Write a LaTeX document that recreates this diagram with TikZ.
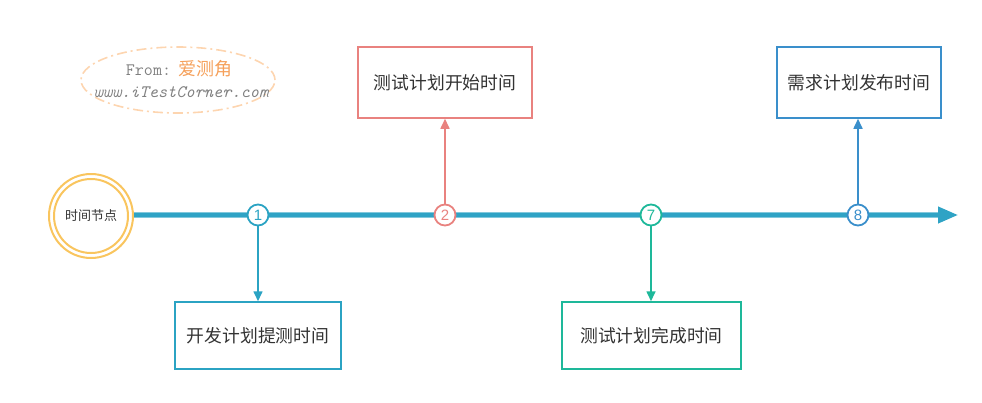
\documentclass[tikz,border=0pt]{standalone}
\usepackage{fontspec}
\setmainfont{Liberation Sans}
\newfontfamily\cjk{Noto Sans CJK SC}
\usetikzlibrary{arrows.meta,shapes.geometric}
\definecolor{lineblue}{HTML}{2FA3C5}
\definecolor{cA}{HTML}{2BA3C3}
\definecolor{cB}{HTML}{E9827F}
\definecolor{cC}{HTML}{1EB89A}
\definecolor{cD}{HTML}{3A8FCB}
\definecolor{gold}{HTML}{F9C55E}
\definecolor{peach}{HTML}{FDD5B0}
\definecolor{orangetxt}{HTML}{F5A05A}
\definecolor{graytxt}{HTML}{808080}
\definecolor{txt}{HTML}{333333}
\tikzset{
  tbox/.style={draw=#1, line width=1.5pt, fill=white, font=\cjk\fontsize{17.8}{17.8}\selectfont, text=txt, inner sep=0pt},
  mark/.style={circle, draw=#1, line width=1.8pt, fill=white, minimum size=21pt, inner sep=0pt, text=#1, font=\fontsize{15}{15}\selectfont},
  conn/.style={draw=#1, line width=1.6pt, -{Triangle[length=10pt,width=9pt]}},
}
\begin{document}
\begin{tikzpicture}[x=1pt,y=-1pt]
\useasboundingbox (0,0) rectangle (982,402);
% watermark
\node[ellipse, draw=peach, line width=1.6pt, dash pattern=on 10pt off 4pt on 2pt off 4pt, minimum width=194pt, minimum height=66pt] (wm) at (178,80) {};
\node[anchor=center] (wm1) at (179,69) {\ttfamily\fontsize{17.5}{17.5}\selectfont\color{graytxt}From:\hspace{7pt}\cjk\fontsize{18}{18}\selectfont\color{orangetxt}爱测角};
\node[anchor=center] (wm2) at (181,92) {\ttfamily\itshape\fontsize{17.5}{17.5}\selectfont\color{graytxt}www.iTestCorner.com};
% start circle
\node[circle, draw=gold, line width=2pt, minimum size=84pt] (startout) at (91,216) {};
\node[circle, draw=gold, line width=2pt, minimum size=74pt, font=\cjk\fontsize{13}{13}\selectfont, text=txt] (start) at (91,216) {时间节点};
% main line
\coordinate (endarrow) at (958,215);
\draw[lineblue!60, line width=6pt] (startout.east |- 0,215) -- (945,215);
\draw[lineblue, line width=4pt, -{Triangle[length=20pt,width=16pt]}] (startout.east |- 0,215) -- (endarrow);
% boxes
\node[tbox=cA, minimum width=166pt, minimum height=67pt] (b1) at (258,335.5) {开发计划提测时间};
\node[tbox=cB, minimum width=174pt, minimum height=71pt] (b2) at (445,82.5) {测试计划开始时间};
\node[tbox=cC, minimum width=179pt, minimum height=67pt] (b3) at (651.5,335.5) {测试计划完成时间};
\node[tbox=cD, minimum width=164pt, minimum height=71pt] (b4) at (859,82.5) {需求计划发布时间};
% markers
\node[mark=cA] (m1) at (258,215) {1};
\node[mark=cB] (m2) at (445,215) {2};
\node[mark=cC] (m7) at (651,215) {7};
\node[mark=cD] (m8) at (858,215) {8};
% connectors
\draw[conn=cA] (m1) -- (m1 |- b1.north);
\draw[conn=cB] (m2) -- (m2 |- b2.south);
\draw[conn=cC] (m7) -- (m7 |- b3.north);
\draw[conn=cD] (m8) -- (m8 |- b4.south);
\end{tikzpicture}
\end{document}
